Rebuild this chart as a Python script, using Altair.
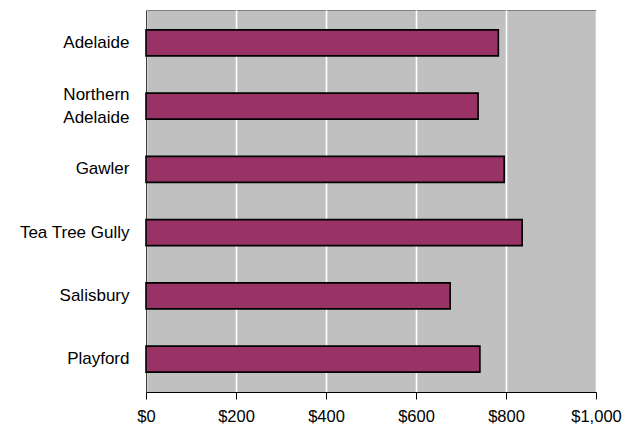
import altair as alt
import pandas as pd

categories = ["Adelaide", "Northern Adelaide", "Gawler", "Tea Tree Gully", "Salisbury", "Playford"]
values = [783, 738, 796, 836, 676, 742]
x_ticks = [0, 200, 400, 600, 800, 1000]

df = pd.DataFrame({"region": categories, "value": values})

FONT = "Liberation Sans"

chart = alt.Chart(df).mark_bar(
    color="#993366", stroke="#000000", strokeWidth=1.6
).encode(
    x=alt.X("value:Q",
            scale=alt.Scale(domain=[0, 1000], nice=False, zero=True),
            axis=alt.Axis(values=x_ticks, title=None,
                          labelExpr="'$' + format(datum.value, ',')",
                          grid=True, gridColor="#FFFFFF", gridWidth=1.6,
                          domainColor="#000000", domainWidth=1,
                          tickColor="#000000", tickSize=7, tickWidth=1,
                          labelFont=FONT, labelFontSize=16.5, labelColor="#000000",
                          labelPadding=9, labelFlush=False)),
    y=alt.Y("region:N", sort=categories,
            scale=alt.Scale(paddingInner=0.59, paddingOuter=0.315),
            axis=alt.Axis(title=None, ticks=False, grid=False,
                          domainColor="#404040", domainWidth=1,
                          labelExpr="datum.label == 'Northern Adelaide' ? ['Northern', 'Adelaide'] : datum.label",
                          labelOffset={"condition": {"test": "datum.label == 'Northern Adelaide'", "value": -11.5}, "value": 0},
                          labelFont=FONT, labelFontSize=17, labelColor="#000000",
                          labelLineHeight=23, labelPadding=17)),
).properties(
    width=450, height=382,
    autosize=alt.AutoSizeParams(type="none"),
    padding={"left": 138, "top": 2, "right": 35, "bottom": 36},
    background="#FFFFFF",
).configure_view(
    fill="#C0C0C0", stroke="#808080", strokeWidth=1
)

chart.save("out.html", embed_options={"renderer": "svg", "actions": False})
